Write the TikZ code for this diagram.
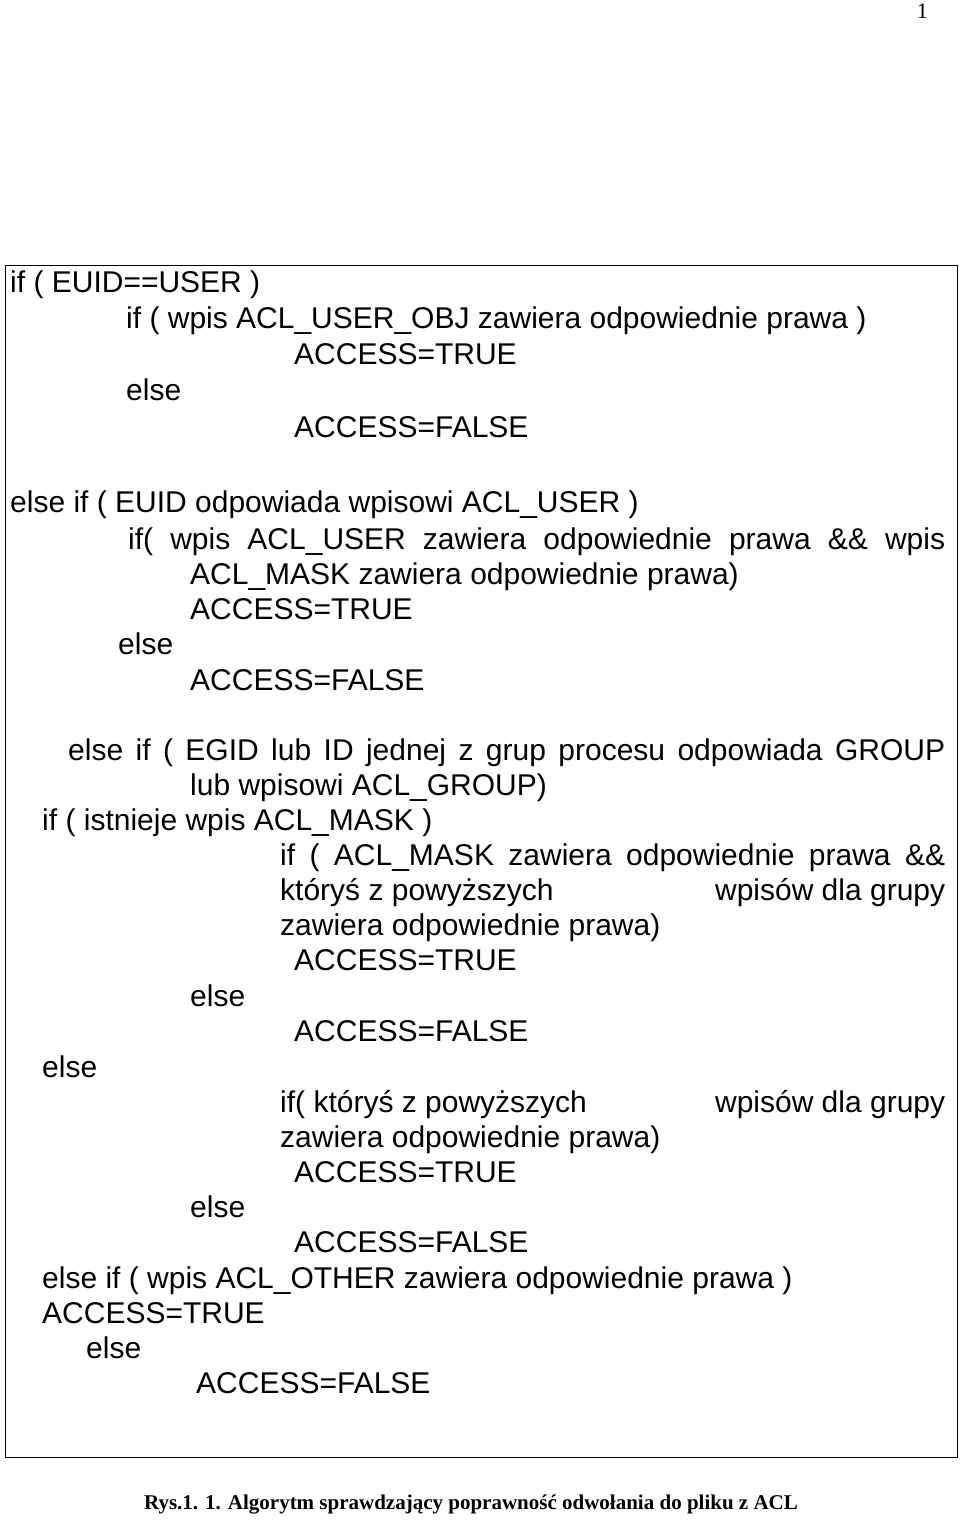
\documentclass[tikz,border=0pt]{standalone}
\usepackage{fontspec}
\setmainfont{Liberation Sans}
\newfontfamily\capfont{Liberation Serif}
\newcommand{\cl}[4]{\node[ln] (#1) at (#2,#3+10.5) {#4};}
\begin{document}
\begin{tikzpicture}[x=1pt,y=-1pt,
  ln/.style={anchor=base west,inner sep=0pt,font=\fontsize{30}{34}\selectfont}]
\useasboundingbox (0,0) rectangle (960,1523);
\node[anchor=base east,inner sep=0pt,font=\capfont\fontsize{22}{24}\selectfont] (pg) at (928,18) {1};
\draw[line width=1pt] (5,265) rectangle (957,1457);
\cl{a1}{10}{282}{if ( EUID==USER )}
\cl{a2}{126}{318}{if ( wpis ACL\_USER\_OBJ zawiera odpowiednie prawa )}
\cl{a3}{294}{354}{ACCESS=TRUE}
\cl{a4}{126}{390}{else}
\cl{a5}{294}{427}{ACCESS=FALSE}
\cl{b1}{10}{502}{else if ( EUID odpowiada wpisowi ACL\_USER )}
\cl{b2}{128}{539}{\makebox[817pt][s]{if( wpis ACL\_USER zawiera odpowiednie prawa \&\& wpis}}
\cl{b3}{190}{574}{ACL\_MASK zawiera odpowiednie prawa)}
\cl{b4}{190}{609}{ACCESS=TRUE}
\cl{b5}{118}{644}{else}
\cl{b6}{190}{680}{ACCESS=FALSE}
\cl{c1}{68}{750}{\makebox[877pt][s]{else if ( EGID lub ID jednej z grup procesu odpowiada GROUP}}
\cl{c2}{190}{785}{lub wpisowi ACL\_GROUP)}
\cl{c3}{42}{820}{if ( istnieje wpis ACL\_MASK )}
\cl{c4}{280}{855}{\makebox[665pt][s]{if ( ACL\_MASK zawiera odpowiednie prawa \&\&}}
\cl{c5}{280}{890}{\makebox[665pt][s]{któryś z powyższych\hfill wpisów dla grupy}}
\cl{c6}{280}{925}{zawiera odpowiednie prawa)}
\cl{c7}{294}{960}{ACCESS=TRUE}
\cl{c8}{190}{996}{else}
\cl{c9}{294}{1031}{ACCESS=FALSE}
\cl{d1}{42}{1067}{else}
\cl{d2}{280}{1102}{\makebox[665pt][s]{if( któryś z powyższych\hfill wpisów dla grupy}}
\cl{d3}{280}{1137}{zawiera odpowiednie prawa)}
\cl{d4}{294}{1172}{ACCESS=TRUE}
\cl{d5}{190}{1207}{else}
\cl{d6}{294}{1242}{ACCESS=FALSE}
\cl{e1}{42}{1278}{else if ( wpis ACL\_OTHER zawiera odpowiednie prawa )}
\cl{e2}{42}{1313}{ACCESS=TRUE}
\cl{e3}{86}{1348}{else}
\cl{e4}{196}{1383}{ACCESS=FALSE}
\node[inner sep=0pt,font=\capfont\bfseries\fontsize{21}{24}\selectfont] (cap) at (471,1505) {Rys.1. 1. Algorytm sprawdzający poprawność odwołania do pliku z ACL};
\end{tikzpicture}
\end{document}
